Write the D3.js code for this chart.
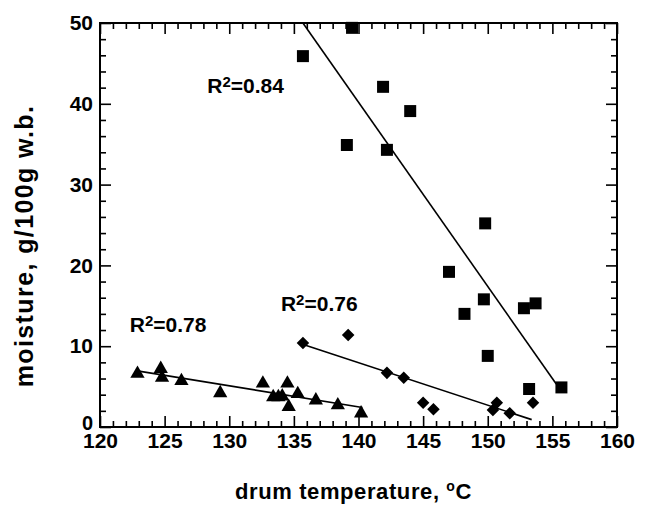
<!DOCTYPE html>
<html>
<head>
<meta charset="utf-8">
<script src="https://cdn.jsdelivr.net/npm/d3@7"></script>
<style>
  html, body { margin: 0; padding: 0; background: #fff; }
  svg { display: block; font-family: 'Liberation Sans', Arial, Helvetica, sans-serif; font-weight: bold; }
</style>
</head>
<body>
<svg id="chart" width="647" height="505"></svg>
<script>
// drum temperature (oC) vs moisture (g/100g w.b.)
const squareTemp = [135.7, 139.5, 139.1, 141.9, 144.0, 142.2, 149.8, 147.0, 149.7, 148.2, 152.8, 153.7, 150.0, 153.2, 155.7];
const squareMoist = [45.9, 49.4, 34.9, 42.1, 39.1, 34.3, 25.2, 19.2, 15.8, 14.0, 14.7, 15.3, 8.8, 4.7, 4.9];

const diamondTemp = [135.7, 139.2, 142.2, 143.5, 145.0, 145.8, 150.7, 150.4, 151.7, 153.5];
const diamondMoist = [10.4, 11.4, 6.7, 6.1, 3.0, 2.2, 3.0, 2.1, 1.7, 3.0];

const triangleTemp = [122.9, 124.7, 124.8, 126.3, 129.3, 132.6, 133.4, 133.8, 134.1, 134.5, 134.6, 135.3, 136.7, 138.4, 140.2];
const triangleMoist = [6.6, 7.2, 6.1, 5.7, 4.2, 5.4, 3.7, 3.7, 3.8, 5.4, 2.5, 4.1, 3.3, 2.7, 1.7];

// linear fits: moisture = intercept + slope * temp, over [from, to]
const fitSlopes = [-2.28, -0.526, -0.26];
const fitIntercepts = [359.4, 81.6, 38.9];
const fitFrom = [135.7, 135.9, 123.0];
const fitTo = [155.3, 153.4, 140.3];

const r2Labels = ['0.84', '0.76', '0.78'];
const r2Temp = [128.3, 134.0, 122.3];
const r2Moist = [41.3, 14.4, 11.8];

const xTicks = [120, 125, 130, 135, 140, 145, 150, 155, 160];
const yTicks = [0, 10, 20, 30, 40, 50];

const Margin = { top: 23, right: 30, bottom: 78, left: 100 };
const Width = 647 - Margin.left - Margin.right;
const Height = 505 - Margin.top - Margin.bottom;
const MajorTick = 11;
const MinorTick = 6;

const x = d3.scaleLinear().domain([120, 160]).range([0, Width]);
const y = d3.scaleLinear().domain([0, 50]).range([Height, 0]);

const svg = d3.select('#chart');
const g = svg.append('g')
  .attr('transform', `translate(${Margin.left},${Margin.top})`);

const styleAxis = sel => {
  sel.select('.domain').remove();
  sel.selectAll('line').attr('stroke', '#000').attr('stroke-width', 1.6);
  sel.selectAll('text')
    .attr('fill', '#000')
    .attr('font-size', 21)
    .attr('font-family', null);
};

const minorX = d3.range(120, 161, 1).filter(v => v % 5 !== 0);
const minorY = d3.range(0, 51, 2).filter(v => v % 10 !== 0);

// bottom + top
g.append('g')
  .attr('transform', `translate(0,${Height})`)
  .call(d3.axisBottom(x).tickValues(xTicks).tickSize(-MajorTick).tickPadding(6))
  .call(styleAxis);
g.append('g')
  .attr('transform', `translate(0,${Height})`)
  .call(d3.axisBottom(x).tickValues(minorX).tickSize(-MinorTick).tickFormat(''))
  .call(styleAxis);
g.append('g')
  .call(d3.axisTop(x).tickValues(xTicks).tickSize(-MajorTick).tickFormat(''))
  .call(styleAxis);
g.append('g')
  .call(d3.axisTop(x).tickValues(minorX).tickSize(-MinorTick).tickFormat(''))
  .call(styleAxis);

// left + right
g.append('g')
  .call(d3.axisLeft(y).tickValues(yTicks).tickSize(-MajorTick).tickPadding(7))
  .call(styleAxis)
  .call(axis => axis.selectAll('.tick text')
    .filter(d => d === 0)
    .attr('dy', '0.1em')
    .attr('font-size', 20));
g.append('g')
  .call(d3.axisLeft(y).tickValues(minorY).tickSize(-MinorTick).tickFormat(''))
  .call(styleAxis);
g.append('g')
  .attr('transform', `translate(${Width},0)`)
  .call(d3.axisRight(y).tickValues(yTicks).tickSize(-MajorTick).tickFormat(''))
  .call(styleAxis);
g.append('g')
  .attr('transform', `translate(${Width},0)`)
  .call(d3.axisRight(y).tickValues(minorY).tickSize(-MinorTick).tickFormat(''))
  .call(styleAxis);

g.append('rect')
  .attr('width', Width)
  .attr('height', Height)
  .attr('fill', 'none')
  .attr('stroke', '#000')
  .attr('stroke-width', 2);

// fit lines
g.append('g')
  .selectAll('line')
  .data(d3.range(fitSlopes.length))
  .enter().append('line')
    .attr('x1', i => x(fitFrom[i]))
    .attr('y1', i => y(fitIntercepts[i] + fitSlopes[i] * fitFrom[i]))
    .attr('x2', i => x(fitTo[i]))
    .attr('y2', i => y(fitIntercepts[i] + fitSlopes[i] * fitTo[i]))
    .attr('stroke', '#000')
    .attr('stroke-width', 1.6);

const drawSeries = (temps, moists, symbol, size) => {
  g.append('g')
    .selectAll('path')
    .data(d3.zip(temps, moists))
    .enter().append('path')
      .attr('transform', d => `translate(${x(d[0])},${y(d[1])})`)
      .attr('d', d3.symbol(symbol, size))
      .attr('fill', '#000');
};

drawSeries(squareTemp, squareMoist, d3.symbolSquare, 144);
drawSeries(diamondTemp, diamondMoist, d3.symbolDiamond2, 100);
drawSeries(triangleTemp, triangleMoist, d3.symbolTriangle, 88);

// R^2 annotations
const r2 = g.append('g')
  .selectAll('text')
  .data(d3.range(r2Labels.length))
  .enter().append('text')
    .attr('x', i => x(r2Temp[i]))
    .attr('y', i => y(r2Moist[i]))
    .attr('font-size', 21)
    .attr('fill', '#000');
r2.append('tspan').text('R');
r2.append('tspan').attr('font-size', 15).attr('dy', -6).text('2');
r2.append('tspan').attr('dy', 6).text(i => '=' + r2Labels[i]);

// axis titles
const xTitle = svg.append('text')
  .attr('x', Margin.left + Width / 2 - 5)
  .attr('y', 499)
  .attr('text-anchor', 'middle')
  .attr('font-size', 22)
  .attr('letter-spacing', 0.6)
  .attr('fill', '#000');
xTitle.append('tspan').text('drum temperature, ');
xTitle.append('tspan').attr('font-size', 14).attr('dy', -8).text('o');
xTitle.append('tspan').attr('dy', 8).text('C');

svg.append('text')
  .attr('transform', 'translate(33,246) rotate(-90)')
  .attr('text-anchor', 'middle')
  .attr('font-size', 25)
  .attr('letter-spacing', 1.4)
  .attr('fill', '#000')
  .text('moisture, g/100g w.b.');
</script>
</body>
</html>
